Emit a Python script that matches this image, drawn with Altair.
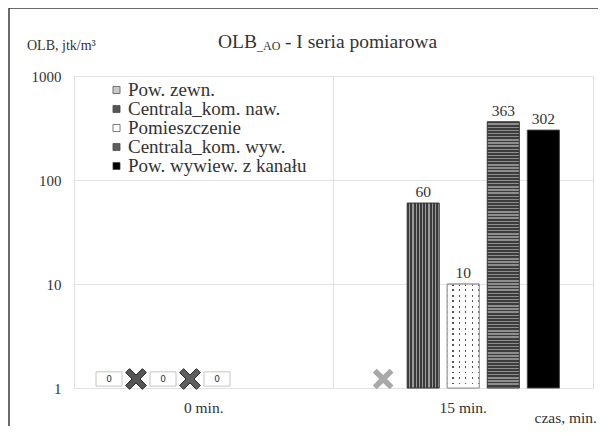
import altair as alt
import pandas as pd

# ---------------- data ----------------
times = ["0 min.", "15 min."]
series = ["Pow. zewn.", "Centrala_kom. naw.", "Pomieszczenie",
          "Centrala_kom. wyw.", "Pow. wywiew. z kanału"]
vals_0 = [0, None, 0, None, 0]          # None = brak pomiaru (X)
vals_15 = [None, 60, 10, 363, 302]
series_colors = ["#c8c8c8", "#555555", "#ffffff", "#5e5e5e", "#000000"]
y_ticks = [1, 10, 100, 1000]

rows = []
for t, vals in zip(times, [vals_0, vals_15]):
    for s, v in zip(series, vals):
        rows.append({"czas": t, "seria": s, "wartosc": v,
                     "brak": v is None, "baza": 1})
df = pd.DataFrame(rows)

FONT = "Liberation Serif"
TXT = "#333333"
GRID = "#e2e2e2"


def stripes(n, c1, c2, frac, along_x):
    stops = []
    for i in range(n):
        a, b, c = i / n, (i + frac) / n, (i + 1) / n
        stops += [{"offset": a, "color": c1}, {"offset": b, "color": c1},
                  {"offset": b, "color": c2}, {"offset": c, "color": c2}]
    g = {"gradient": "linear", "stops": stops, "x1": 0, "y1": 0,
         "x2": 1 if along_x else 0, "y2": 0 if along_x else 1}
    return g


grad_naw = stripes(10, "#3a3a3a", "#9a9a9a", 0.62, True)
grad_wyw = stripes(85, "#3c3c3c", "#8e8e8e", 0.55, False)
grad_pom_cols = stripes(5, "#ffffff", "#555555", 0.8, True)
grad_pom_rows = stripes(19, "rgba(255,255,255,0)", "#ffffff", 0.35, False)

x_enc = alt.X("czas:N", sort=times,
              scale=alt.Scale(domain=times, paddingInner=0, paddingOuter=0),
              axis=alt.Axis(title=None, labelAngle=0, domain=False, ticks=False,
                            grid=True, bandPosition=0, gridColor=GRID,
                            labelFont=FONT, labelFontSize=15.5, labelColor=TXT,
                            labelPadding=12))
y_enc = alt.Y("wartosc:Q",
              scale=alt.Scale(type="log", domain=[1, 1000]),
              axis=alt.Axis(values=y_ticks, format="d", title=None, domain=False,
                            ticks=False, gridColor=GRID, labelFont=FONT,
                            labelFontSize=15, labelColor=TXT, labelPadding=13))
y_base = alt.Y("baza:Q", scale=alt.Scale(type="log", domain=[1, 1000]))
xoff_main = alt.XOffset("seria:N", sort=series,
                        scale=alt.Scale(type="band", domain=series,
                                        paddingInner=0.2, paddingOuter=0.84))
xoff_lab = alt.XOffset("seria:N", sort=series,
                       scale=alt.Scale(type="band", domain=series,
                                       range=[21.5, 156.5],
                                       paddingInner=0, paddingOuter=0))

base = alt.Chart(df)


def bar_layer(name, fill, stroke):
    return base.transform_filter(
        (alt.datum.seria == name) & (alt.datum.wartosc > 0)
    ).mark_bar(fill=fill, stroke=stroke, strokeWidth=1).encode(
        x=x_enc, y=y_enc, y2=alt.Y2(datum=1), xOffset=xoff_main)


bars_naw = bar_layer(series[1], grad_naw, "#333333")
bars_pom = bar_layer(series[2], grad_pom_cols, "#9a9a9a")
bars_pom2 = bar_layer(series[2], grad_pom_rows, "#9a9a9a")
bars_wyw = bar_layer(series[3], grad_wyw, "#333333")
bars_kan = bar_layer(series[4], "#000000", "#444444")

labels = base.transform_filter(alt.datum.wartosc > 0).mark_text(
    font=FONT, fontSize=15.5, color=TXT, baseline="bottom", dy=-3
).encode(x=x_enc, y=y_enc, xOffset=xoff_main,
         text=alt.Text("wartosc:Q", format="d"))

xpath = ("M-1,-0.62L-0.62,-1L0,-0.38L0.62,-1L1,-0.62L0.38,0L1,0.62L0.62,1"
         "L0,0.38L-0.62,1L-1,0.62L-0.38,0Z")
color_enc = alt.Color("seria:N", sort=series,
                      scale=alt.Scale(domain=series, range=series_colors),
                      legend=alt.Legend(title=None, orient="none", legendX=33,
                                        legendY=5, symbolType="square",
                                        symbolSize=50, symbolOpacity=1,
                                        symbolStrokeColor="#444444",
                                        symbolStrokeWidth=0.7,
                                        labelFont=FONT, labelFontSize=19,
                                        labelColor=TXT, labelOffset=2,
                                        clipHeight=18, rowPadding=0,
                                        padding=0, labelLimit=400))

legend_layer = base.mark_square(opacity=0).encode(
    x=x_enc, y=y_base, color=color_enc)

x_0 = base.transform_filter(
    (alt.datum.czas == times[0]) & alt.datum.brak
).mark_point(shape=xpath, size=430, filled=True, opacity=1, yOffset=-9,
             stroke="#2a2a2a", strokeWidth=1).encode(
    x=x_enc, y=y_base, xOffset=xoff_lab, color=color_enc)

x_15 = base.transform_filter(
    (alt.datum.czas == times[1]) & alt.datum.brak
).mark_point(shape=xpath, size=430, filled=True, opacity=1, yOffset=-9,
             color="#a8a8a8").encode(
    x=x_enc, y=y_base, xOffset=xoff_main)

box_path = "M-1,-0.55L1,-0.55L1,0.55L-1,0.55Z"
zero_boxes = base.transform_filter(alt.datum.wartosc == 0).mark_point(
    shape=box_path, size=676, filled=True, fill="white", stroke="#c4c4c4",
    strokeWidth=1, opacity=1, yOffset=-9
).encode(x=x_enc, y=y_base, xOffset=xoff_lab)

zero_text = base.transform_filter(alt.datum.wartosc == 0).mark_text(
    fontSize=9, font="DejaVu Sans", color=TXT, yOffset=-9
).encode(x=x_enc, y=y_base, xOffset=xoff_lab,
         text=alt.Text("wartosc:Q", format="d"))

one = alt.Chart(pd.DataFrame({"k": [0]}))
frame_left = one.mark_rule(color="#3a3a3a", strokeWidth=1.5).encode(
    x=alt.value(-65), y=alt.value(-68), y2=alt.value(360))
frame_top = one.mark_rule(color="#3a3a3a", strokeWidth=1.5).encode(
    x=alt.value(-65), x2=alt.value(530), y=alt.value(-68))

t1 = one.mark_text(font=FONT, fontSize=19.5, color=TXT, align="left").encode(
    x=alt.value(144), y=alt.value(-34), text=alt.value("OLB"))
t2 = one.mark_text(font=FONT, fontSize=12, color=TXT, align="left").encode(
    x=alt.value(183), y=alt.value(-30), text=alt.value("_AO"))
t3 = one.mark_text(font=FONT, fontSize=19.5, color=TXT, align="left").encode(
    x=alt.value(211), y=alt.value(-34), text=alt.value("- I seria pomiarowa"))
ytitle = one.mark_text(font=FONT, fontSize=14, color=TXT, align="left").encode(
    x=alt.value(-47), y=alt.value(-30), text=alt.value("OLB, jtk/m³"))
xtitle = one.mark_text(font=FONT, fontSize=15.5, color=TXT, align="right").encode(
    x=alt.value(523), y=alt.value(342), text=alt.value("czas, min."))

chart = alt.layer(
    legend_layer, bars_naw, bars_pom, bars_pom2, bars_wyw, bars_kan, labels,
    x_0, x_15, zero_boxes, zero_text,
    frame_left, frame_top, t1, t2, t3, ytitle, xtitle
).resolve_scale(xOffset="independent").properties(
    width=519, height=312,
    autosize=alt.AutoSizeParams(type="none"),
    padding={"left": 66, "top": 68, "right": 5, "bottom": 38},
).configure_view(stroke="#dcdcdc").configure(background="white")

chart.save("out.html", embed_options={"renderer": "svg", "actions": False})
